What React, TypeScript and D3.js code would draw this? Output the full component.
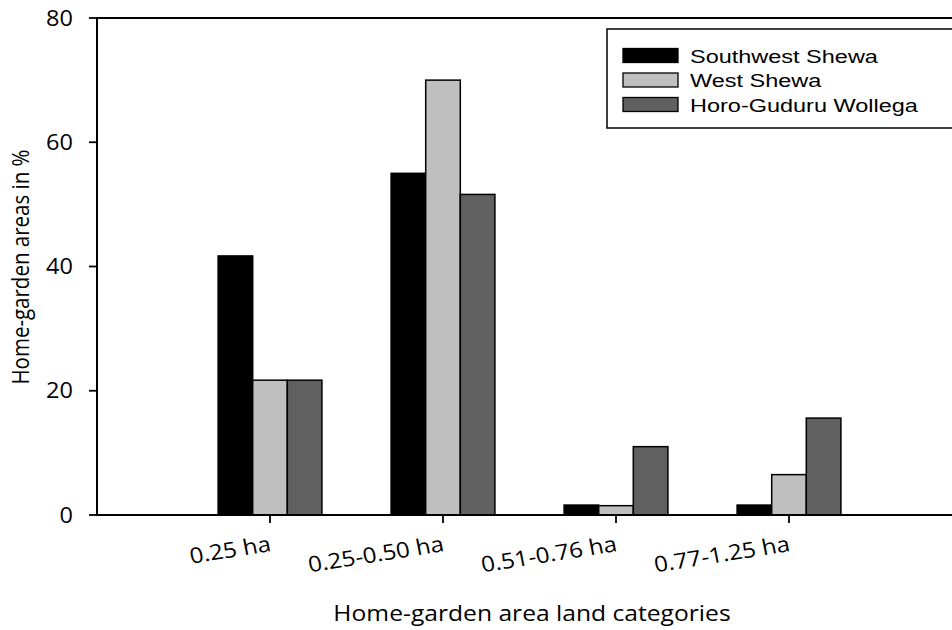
import React from "react";
import * as d3 from "d3";

const categories = ["0.25 ha", "0.25-0.50 ha", "0.51-0.76 ha", "0.77-1.25 ha"];
const seriesNames = ["Southwest Shewa", "West Shewa", "Horo-Guduru Wollega"];
const southwestShewa = [41.7, 55.0, 1.6, 1.6];
const westShewa = [21.7, 70.0, 1.5, 6.5];
const horoGuduruWollega = [21.7, 51.6, 11.0, 15.6];
const seriesColors = ["#000000", "#bfbfbf", "#606060"];
const yTicks = [0, 20, 40, 60, 80];
const yTitle = "Home-garden areas in %";
const xTitle = "Home-garden area land categories";

const W = 952;
const H = 630;
const SX = 1.12; // horizontal stretch of the original picture
const FONT = "'Open Sans', Lato, sans-serif";

export default function App() {
  const series = [southwestShewa, westShewa, horoGuduruWollega];
  const x = d3.scaleLinear().domain([0, categories.length + 1]).range([97, 962]);
  const y = d3.scaleLinear().domain([0, 80]).range([515, 18]);
  const step = x(1) - x(0);
  const barW = step * 0.2;

  return (
    <svg width={W} height={H} style={{ position: "absolute", left: 0, top: 0, background: "#fff" }}>
      <rect x={0} y={0} width={W} height={H} fill="#fff" />
      {/* bars */}
      {categories.map((c, i) =>
        series.map((s, j) => {
          const cx = x(i + 1);
          const bx = cx - 1.5 * barW + j * barW;
          return (
            <rect
              key={c + j}
              x={bx}
              y={y(s[i])}
              width={barW}
              height={y(0) - y(s[i])}
              fill={seriesColors[j]}
              stroke="#000"
              strokeWidth={1.5}
            />
          );
        })
      )}
      {/* frame / axes */}
      <line x1={97} x2={W} y1={y(80)} y2={y(80)} stroke="#000" strokeWidth={1.8} />
      <line x1={97} x2={W} y1={y(0)} y2={y(0)} stroke="#000" strokeWidth={1.8} />
      <line x1={97} x2={97} y1={y(80) - 0.9} y2={y(0) + 0.9} stroke="#000" strokeWidth={2} />
      {yTicks.map((t) => (
        <g key={t}>
          <line x1={89} x2={97} y1={y(t)} y2={y(t)} stroke="#000" strokeWidth={1.8} />
          <text
            transform={`translate(73,${y(t) + 7.5}) scale(${SX},1)`}
            textAnchor="end"
            fontFamily={FONT}
            fontSize={21}
            fill="#000"
          >
            {t}
          </text>
        </g>
      ))}
      {categories.map((c, i) => (
        <g key={c}>
          <line x1={x(i + 1)} x2={x(i + 1)} y1={y(0)} y2={y(0) + 8} stroke="#000" strokeWidth={1.8} />
          <text
            transform={`translate(${x(i + 1) + 2},551) scale(${SX},1) rotate(-10)`}
            textAnchor="end"
            fontFamily={FONT}
            fontSize={21.5}
            fill="#000"
          >
            {c}
          </text>
        </g>
      ))}
      <text
        transform={`translate(532,621) scale(${SX},1)`}
        textAnchor="middle"
        fontFamily={FONT}
        fontSize={22}
        fill="#000"
      >
        {xTitle}
      </text>
      <text
        transform={`translate(29,267) scale(${SX},1) rotate(-90)`}
        textAnchor="middle"
        fontFamily={FONT}
        fontSize={20.5}
        fill="#000"
      >
        {yTitle}
      </text>
      {/* legend */}
      <rect x={607} y={29} width={360} height={99} fill="#fff" stroke="#000" strokeWidth={1.5} />
      {seriesNames.map((n, j) => (
        <g key={n}>
          <rect x={623} y={48.5 + j * 24.5} width={55} height={14} fill={seriesColors[j]} stroke="#000" strokeWidth={1.3} />
          <text
            transform={`translate(690,${62.5 + j * 24.5}) scale(1.27,1)`}
            fontFamily="'Liberation Sans', Arial, sans-serif"
            fontSize={18.5}
            fill="#000"
          >
            {n}
          </text>
        </g>
      ))}
    </svg>
  );
}
